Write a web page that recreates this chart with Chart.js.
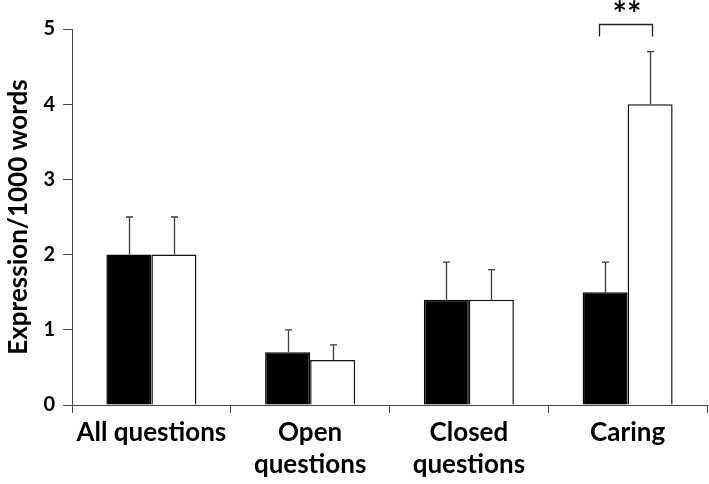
<!DOCTYPE html>
<html>
<head>
<meta charset="utf-8">
<script src="https://cdn.jsdelivr.net/npm/chart.js@4/dist/chart.umd.min.js"></script>
<style>
  html, body { margin: 0; padding: 0; background: #fff; }
  #wrap { width: 709px; height: 484px; position: relative; }
</style>
</head>
<body>
<div id="wrap"><canvas id="c"></canvas></div>
<script>
const categories = ['All questions', ['Open', 'questions'], ['Closed', 'questions'], 'Caring'];
const seriesBlack = [2.0, 0.7, 1.4, 1.5];
const seriesWhite = [2.0, 0.6, 1.4, 4.0];
const errBlack = [0.5, 0.3, 0.5, 0.4];
const errWhite = [0.5, 0.2, 0.4, 0.7];
const yTicks = [0, 1, 2, 3, 4, 5];
const yTitle = 'Expression/1000 words';
const sigLabel = '**';
const sigCategory = 3;
const sigTop = 5.07;
const sigLeg = 4.9;

const FONT = 'Lato, "Open Sans", sans-serif';

const errorBarPlugin = {
  id: 'errorBars',
  afterDatasetsDraw(chart) {
    const ctx = chart.ctx;
    const y = chart.scales.y;
    const errs = [errBlack, errWhite];
    const vals = [seriesBlack, seriesWhite];
    ctx.save();
    ctx.strokeStyle = '#3a3a3a';
    ctx.lineWidth = 1.3;
    for (let d = 0; d < 2; d++) {
      const meta = chart.getDatasetMeta(d);
      meta.data.forEach((bar, i) => {
        const x = Math.round(bar.x) + 0.5;
        const y0 = y.getPixelForValue(vals[d][i]);
        const y1 = y.getPixelForValue(vals[d][i] + errs[d][i]);
        ctx.beginPath();
        ctx.moveTo(x, y0);
        ctx.lineTo(x, y1);
        ctx.moveTo(x - 3.5, y1);
        ctx.lineTo(x + 3.5, y1);
        ctx.stroke();
      });
    }
    // significance bracket
    const b0 = chart.getDatasetMeta(0).data[sigCategory];
    const b1 = chart.getDatasetMeta(1).data[sigCategory];
    const xl = Math.round(b0.x - 6) + 0.5;
    const xr = Math.round(b1.x + 1.5) + 0.5;
    const yt = Math.round(y.getPixelForValue(sigTop)) + 0.5;
    const yb = y.getPixelForValue(sigLeg);
    ctx.strokeStyle = '#222';
    ctx.lineWidth = 1.3;
    ctx.beginPath();
    ctx.moveTo(xl, yb);
    ctx.lineTo(xl, yt);
    ctx.lineTo(xr, yt);
    ctx.lineTo(xr, yb);
    ctx.stroke();
    ctx.fillStyle = '#000';
    ctx.font = 'bold 34px ' + FONT;
    ctx.textAlign = 'center';
    ctx.textBaseline = 'middle';
    ctx.fillText(sigLabel, (xl + xr) / 2 + 1, yt - 9);
    ctx.restore();
  }
};

new Chart(document.getElementById('c'), {
  type: 'bar',
  data: {
    labels: categories,
    datasets: [
      { data: seriesBlack, backgroundColor: '#000', borderColor: '#000', borderWidth: 1.5 },
      { data: seriesWhite, backgroundColor: '#fff', borderColor: '#111', borderWidth: 1.5 }
    ]
  },
  options: {
    responsive: true,
    maintainAspectRatio: false,
    animation: false,
    devicePixelRatio: 1,
    layout: { padding: { top: 29, right: 2, left: 0, bottom: 0 } },
    plugins: { legend: { display: false }, tooltip: { enabled: false } },
    datasets: { bar: { barPercentage: 1.0, categoryPercentage: 0.567 } },
    scales: {
      x: {
        offset: true,
        grid: { offset: true, drawOnChartArea: false, drawTicks: true, tickLength: 8, color: '#444', lineWidth: 1 },
        border: { display: true, color: '#444', width: 1 },
        ticks: { color: '#000', font: { family: FONT, size: 26, weight: 'bold', lineHeight: 1.25 }, padding: 3, maxRotation: 0, autoSkip: false },
        afterFit(scale) { scale.height = 79; }
      },
      y: {
        min: 0, max: 5,
        afterBuildTicks(scale) { scale.ticks = yTicks.map(v => ({ value: v })); },
        grid: { drawOnChartArea: false, drawTicks: true, tickLength: 9, color: '#444', lineWidth: 1 },
        border: { display: true, color: '#444', width: 1 },
        ticks: { color: '#000', font: { family: FONT, size: 20, weight: 'bold' }, padding: 8 },
        title: { display: true, text: yTitle, color: '#000', font: { family: FONT, size: 26, weight: 'bold' }, padding: { top: 3, bottom: 0 } },
        afterFit(scale) { scale.width = 72; }
      }
    }
  },
  plugins: [errorBarPlugin]
});
</script>
</body>
</html>
